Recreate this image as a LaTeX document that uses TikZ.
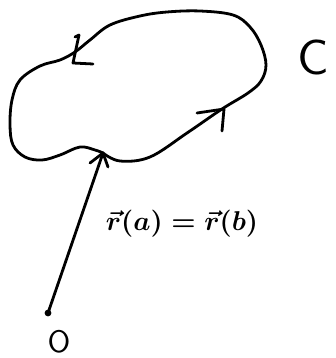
\documentclass[tikz,border=0pt]{standalone}
\usepackage{amsmath}
\usepackage{tikz}
\usetikzlibrary{calc}

\begin{document}
\begin{tikzpicture}[x=1pt,y=-1pt,
    pen/.style={line width=2.8pt, line cap=round, line join=round},
    lbl/.style={inner sep=0pt}]
    \useasboundingbox (0,0) rectangle (335,358);

    % Closed curve C (starts and ends at the point where the vector lands)
    \coordinate (base) at (103,153);
    \draw[pen] plot[smooth, tension=0.6] coordinates {(103,153) (120,161) (150,157) (187,133) (222,109) (248,93) (261,81) (266,65) (261,45) (250,27) (233,15) (200,11) (167,12) (140,16) (110,25) (90,40) (75,52) (60,60) (40,66) (20,80) (12,100) (10,125) (13,145) (25,157) (42,160) (60,155) (80,147) (95,150) (103,153)};

    % Orientation marks on C
    \coordinate (tipR) at (224,109);
    \draw[pen] (197,113) -- (tipR) -- (222,131);
    \coordinate (tipL) at (73,63);
    \draw[pen] (75,37) -- (79,35) -- (tipL) -- (93,64);

    % Position vector from O to the start/end point
    \coordinate (Opt) at (48,313);
    \fill (Opt) circle (3.4);
    \draw[pen] (Opt) -- (base);
    \draw[pen] (90,163) -- (base) -- (108,167);

    \node[lbl, scale=4.9] (C) at (313,57) {\sffamily C};
    \node[lbl, scale=3.1] (O) at (59,342) {\sffamily O};
    \node[lbl, scale=2.72] (rab) at (182,224) {$\boldsymbol{\vec{r}(a)=\vec{r}(b)}$};

\end{tikzpicture}
\end{document}
